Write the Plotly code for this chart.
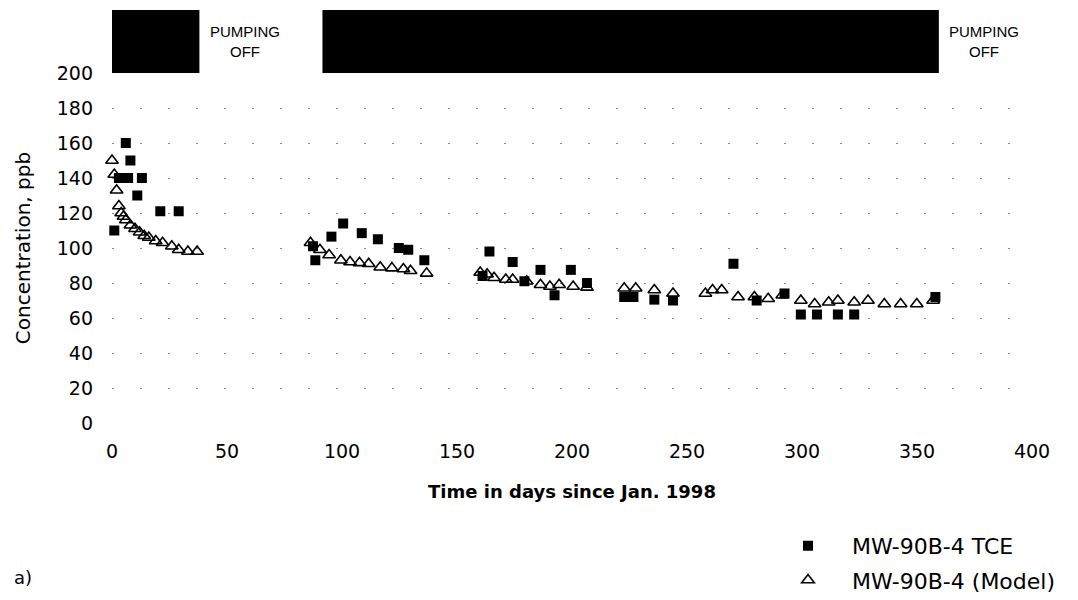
import plotly.graph_objects as go

# ---- data ----
tce_days = [1, 3, 6, 7, 8, 11, 13, 21, 29,
            87.4, 88.4, 95.4, 100.5, 108.6, 115.6, 124.7, 128.8, 135.8,
            161.1, 164.1, 174.2, 179.3, 186.3, 192.4, 199.5, 206.5,
            222.7, 226.7, 235.8, 243.9, 270.2, 280.3, 292.4, 299.5, 306.5, 315.6, 322.7, 358.0]
tce_conc = [110, 140, 160, 140, 150, 130, 140, 121, 121,
            101, 93, 106.5, 114, 108.5, 105, 100, 99, 93,
            84, 98, 92, 81, 87.5, 73, 87.5, 80,
            72, 72, 70.5, 70, 91, 70, 74, 62, 62, 62, 62, 72]

model_days = [0, 1, 2, 3, 4, 5, 6, 8, 10, 12, 14, 16, 19, 22, 26, 29, 33, 37,
              86.3, 90.4, 94.4, 99.5, 103.5, 107.6, 111.6, 116.6, 121.7, 126.7, 129.8, 136.8,
              160.1, 163.1, 166.1, 171.2, 174.2, 180.3, 186.3, 190.4, 194.4, 200.5, 206.5,
              222.7, 227.7, 235.8, 243.9, 258.0, 261.1, 265.1, 272.2, 279.3, 285.3, 291.4,
              299.5, 305.5, 311.6, 315.6, 322.7, 328.7, 335.8, 342.9, 349.9, 357.0]
model_conc = [150, 142, 133, 124, 120, 118, 116, 113, 111, 109, 107, 106, 104, 103, 101, 99, 98, 98,
              103, 99, 96, 93, 92, 91.5, 91, 89, 88.5, 88, 87, 85.5,
              86, 85, 83, 82, 82, 81, 79, 78, 79, 78, 77.5,
              77, 77, 76, 74, 74, 76, 76, 72, 72, 71, 73,
              70, 68, 69, 70, 69, 70, 68, 68, 68, 70]

pumping_on_start = [-1, 91.5]
pumping_on_end = [38, 359.5]
pumping_off_label_days = [58, 379]

y_ticks = [0, 20, 40, 60, 80, 100, 120, 140, 160, 180, 200]
x_ticks = [0, 50, 100, 150, 200, 250, 300, 350, 400]

FONT = "DejaVu Sans"

fig = go.Figure()
fig.add_trace(go.Scatter(
    x=tce_days, y=tce_conc, mode="markers", name="MW-90B-4 TCE",
    marker=dict(symbol="square", size=10, color="black"),
    legend="legend", cliponaxis=False))
fig.add_trace(go.Scatter(
    x=model_days, y=model_conc, mode="markers", name="MW-90B-4 (Model)",
    marker=dict(symbol="triangle-up-open", size=11, color="black",
                line=dict(width=1.6, color="black")),
    legend="legend2", cliponaxis=False))

shapes = []
for s, e in zip(pumping_on_start, pumping_on_end):
    shapes.append(dict(type="rect", xref="x", yref="paper", x0=s, x1=e,
                       y0=1.0, y1=1.18, fillcolor="black",
                       line=dict(width=0), layer="above"))

annotations = []
for d in pumping_off_label_days:
    annotations.append(dict(x=d, y=1.09, xref="x", yref="paper",
                            xanchor="center", yanchor="middle",
                            text="PUMPING<br>OFF", showarrow=False,
                            font=dict(family="Liberation Sans", size=15, color="black"),
                            align="center"))
annotations.append(dict(x=-0.097, y=-0.44, xref="paper", yref="paper",
                        xanchor="center", yanchor="middle",
                        text="a)", showarrow=False,
                        font=dict(family=FONT, size=18, color="black")))

fig.update_layout(
    width=1078, height=600,
    margin=dict(l=112, r=46, t=73, b=177, autoexpand=False),
    paper_bgcolor="white", plot_bgcolor="white",
    font=dict(family=FONT, size=18, color="black"),
    shapes=shapes, annotations=annotations,
    showlegend=True,
    legend=dict(x=0.7087, y=-0.351, xanchor="left", yanchor="middle",
                itemwidth=78,
                bgcolor="rgba(0,0,0,0)", font=dict(family=FONT, size=22)),
    legend2=dict(x=0.7087, y=-0.449, xanchor="left", yanchor="middle",
                 itemwidth=78,
                 bgcolor="rgba(0,0,0,0)", font=dict(family=FONT, size=22)),
    xaxis=dict(range=[0, 400], tickvals=x_ticks, showgrid=False, zeroline=False,
               showline=False, ticks="", tickfont=dict(family=FONT, size=19),
               ticklabelstandoff=15,
               title=dict(text="<b>Time in days since Jan. 1998</b>",
                          font=dict(family=FONT, size=18), standoff=24)),
    yaxis=dict(range=[0, 200], tickvals=y_ticks, showgrid=True,
               gridcolor="#888888", griddash="2px,26px", gridwidth=1,
               zeroline=False, showline=False, ticks="",
               tickfont=dict(family=FONT, size=19), ticklabelstandoff=18,
               title=dict(text="Concentration, ppb",
                          font=dict(family=FONT, size=20), standoff=20)),
)

fig.write_html("out.html")
